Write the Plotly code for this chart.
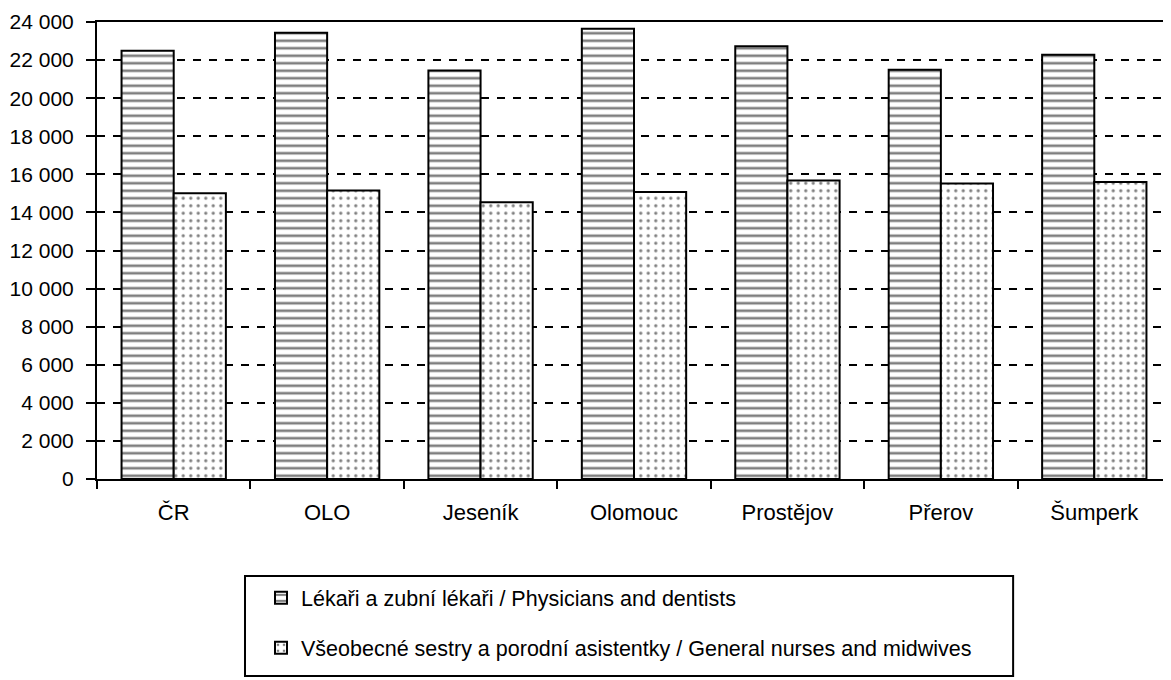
import plotly.graph_objects as go

categories = ["ČR", "OLO", "Jeseník", "Olomouc", "Prostějov", "Přerov", "Šumperk"]
physicians = [22490, 23430, 21450, 23640, 22730, 21490, 22280]
nurses = [15000, 15150, 14530, 15070, 15670, 15520, 15600]
series_names = [
    "Lékaři a zubní lékaři / Physicians and dentists",
    "Všeobecné sestry a porodní asistentky / General nurses and midwives",
]
y_ticks = list(range(0, 24001, 2000))

FONT = "Liberation Sans, Arial, sans-serif"

fig = go.Figure()
fig.add_trace(go.Bar(
    x=categories, y=physicians, name=series_names[0], legendgroup="a",
    marker=dict(color="white", line=dict(color="black", width=2),
                pattern=dict(shape="-", fgcolor="black", bgcolor="white", size=7.5, solidity=0.35)),
))
fig.add_trace(go.Bar(
    x=categories, y=nurses, name=series_names[1], legendgroup="b",
    marker=dict(color="white", line=dict(color="black", width=2),
                pattern=dict(shape=".", fgcolor="black", bgcolor="white", size=7.5, solidity=0.15)),
))

# page body has an 8px margin, so the figure is sized to end at the window edge
fig.update_layout(
    width=1163, height=672,
    margin=dict(l=89, r=0, t=14, b=201, autoexpand=False),
    paper_bgcolor="white", plot_bgcolor="white",
    barmode="group", bargap=0.32, bargroupgap=0,
    separators=", ",
    font=dict(family=FONT, size=22, color="black"),
    showlegend=True,
    legend=dict(
        x=0.1527, y=-0.2153, xanchor="left", yanchor="top",
        bgcolor="rgba(0,0,0,0)", borderwidth=0,
        tracegroupgap=19, font=dict(size=21.5, family=FONT),
        itemwidth=30,
    ),
    shapes=[dict(type="rect", xref="paper", yref="paper",
                 x0=0.1378, x1=0.853, y0=-0.431, y1=-0.212,
                 line=dict(color="black", width=2), fillcolor="rgba(0,0,0,0)")],
)
fig.update_xaxes(
    showline=True, linecolor="black", linewidth=2, mirror=True,
    ticks="outside", tickson="boundaries", ticklen=8, tickwidth=2, tickcolor="black",
    showgrid=False, tickfont=dict(size=22), ticklabelstandoff=13, automargin=False,
)
fig.update_yaxes(
    range=[0, 24000], tickvals=y_ticks, tickformat=",d",
    showline=True, linecolor="black", linewidth=2,
    ticks="outside", ticklen=9, tickwidth=2, tickcolor="black",
    showgrid=True, gridcolor="black", gridwidth=2, griddash="8px,8px",
    zeroline=False, ticklabelstandoff=8, tickfont=dict(size=21), automargin=False,
)

fig.write_html("out.html")
